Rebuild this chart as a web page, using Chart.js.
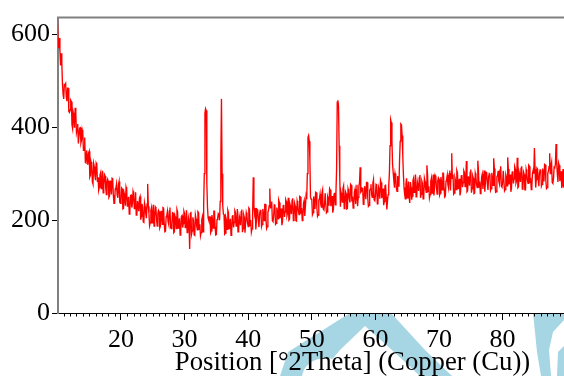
<!DOCTYPE html>
<html><head><meta charset="utf-8">
<script src="https://cdn.jsdelivr.net/npm/chart.js@4.4.1/dist/chart.umd.min.js"></script>
<style>html,body{margin:0;padding:0;overflow:hidden;background:#fff;width:564px;height:376px}</style>
</head><body>
<canvas id="c" width="660" height="376" style="width:660px;height:376px;display:block"></canvas>
<script>
// Scan: 2Theta start and step of the sampled angle grid
const angleStart = 10.0;
const angleStep = 0.1;
// Counts, one per grid angle (10.0 ... 90.0), 2 degrees per row
const counts = [
632,588,570,592,566,533,559,541,493,471,461,492,491,494,466,456,484,484,434,432,
437,458,455,405,397,431,423,399,442,429,389,397,407,365,365,398,399,366,372,394,
387,350,350,378,324,323,350,336,319,344,348,293,297,325,318,283,278,322,315,296,
286,323,320,282,292,265,271,297,302,268,286,306,259,276,298,295,270,255,282,288,
284,249,252,285,273,255,290,289,254,236,236,267,269,278,255,248,276,283,239,236,
245,269,267,224,225,258,251,231,271,265,230,239,250,213,220,253,254,227,236,262,
256,225,229,260,211,212,241,232,219,247,251,201,208,235,228,196,195,237,229,213,
204,235,278,230,214,188,194,221,227,194,213,233,187,205,228,225,200,187,214,221,
218,183,187,220,209,191,227,226,192,175,176,207,210,219,197,191,220,227,184,182,
192,216,215,173,175,208,201,182,223,218,183,192,204,168,175,208,210,184,193,219,
214,184,189,221,173,175,205,197,138,214,218,170,177,206,199,168,167,211,203,188,
179,218,216,180,191,166,173,201,207,175,232,300,430,440,436,280,228,205,200,207,
207,173,177,211,200,183,219,219,185,168,169,201,204,214,212,200,240,330,461,300,
232,213,212,170,172,205,199,180,221,216,182,191,203,167,175,208,211,184,195,220,
216,187,191,224,175,178,208,201,189,218,223,174,182,211,205,173,173,216,210,194,
186,226,224,188,200,174,181,215,292,230,215,226,180,200,223,221,198,185,214,221,
220,186,191,224,215,199,234,234,201,182,186,217,221,231,268,225,234,240,199,197,
208,233,232,191,193,227,220,203,243,238,204,214,225,189,197,231,233,207,218,244,
240,210,216,248,200,202,232,225,213,243,247,199,207,236,230,199,198,241,235,219,
212,251,250,214,226,199,207,236,242,209,230,252,245,300,378,382,370,330,250,245,
246,212,216,251,240,224,260,259,226,208,211,243,246,256,235,228,258,265,224,222,
233,258,258,216,218,250,245,231,268,265,230,239,252,216,224,256,259,233,260,310,
454,458,446,360,290,229,259,251,239,268,274,225,234,261,257,224,225,267,261,245,
238,277,275,240,251,226,233,261,267,235,254,276,230,249,273,280,314,260,262,269,
268,234,238,273,262,245,281,281,247,230,232,264,267,277,255,249,279,287,244,242,
252,277,276,235,237,270,264,246,286,281,247,257,268,232,240,274,275,250,223,240,
255,275,300,360,416,410,372,320,302,285,270,300,292,268,262,295,285,272,330,370,
407,405,382,340,300,270,255,246,278,290,248,262,283,250,237,282,271,244,252,285,
290,260,266,298,250,252,282,274,263,292,297,248,256,284,279,246,248,290,283,267,
260,318,298,262,273,248,255,283,290,258,277,298,253,271,296,292,270,256,284,291,
288,254,258,293,282,265,301,301,268,250,252,284,288,297,276,269,300,307,264,300,
344,290,298,256,258,291,285,266,307,302,268,278,289,253,262,295,297,271,281,306,
302,272,277,327,261,263,294,285,274,303,309,259,268,295,290,257,258,301,294,277,
270,328,308,271,283,257,264,293,299,267,286,307,261,281,303,302,278,265,293,300,
298,264,268,302,292,275,333,311,277,260,261,293,296,306,284,278,308,316,273,271,
281,306,306,263,266,298,293,274,335,310,277,285,298,261,270,303,305,279,289,315,
310,280,285,334,270,272,302,294,282,312,316,267,275,303,298,265,265,309,302,286,
279,318,316,280,291,266,273,301,307,300,355,310,270,288,312,310,286,273,301,308,
307,273,277,311,300,283,320,319,285,268,270,301,305,315,344,300,316,324,281,279,
289,314,313,320,364,325,300,282,323,318,284,293,305,269,277,310,270,286,296,300,
290
];
const xTickLabels = [20,30,40,50,60,70,80];
const yTickLabels = [0,200,400,600];
const xTitle = 'Position [°2Theta] (Copper (Cu))';

const points = counts.map((c,i)=>({x:+(angleStart+i*angleStep).toFixed(1), y:c}));
const FONT = {family:'"Liberation Serif", "DejaVu Serif", serif', size:26};

const decor = {
  id:'decor',
  beforeDraw(chart){
    const ctx = chart.ctx, a = chart.chartArea;
    ctx.save();
    ctx.beginPath(); ctx.rect(0, a.bottom+1, chart.width, chart.height); ctx.clip();
    ctx.fillStyle = '#a6d5e3';
    const poly = pts => { ctx.beginPath(); ctx.moveTo(pts[0][0],pts[0][1]); for(let i=1;i<pts.length;i++) ctx.lineTo(pts[i][0],pts[i][1]); ctx.closePath(); ctx.fill(); };
    poly([[350,313],[391,313],[425,350],[452,376],[420,376],[392,350],[365,326],[340,350],[318,376],[280,376],[288,352],[315,335]]);
    ctx.fillStyle = '#ffffff';
    ctx.beginPath(); ctx.ellipse(326,378,24,20,0,0,Math.PI*2); ctx.fill();
    ctx.fillStyle = '#a6d5e3';
    poly([[533,313],[564,313],[564,320],[553,332],[549,350],[551,376],[541,376],[537,352],[535,332]]);
    poly([[558,352],[564,346],[564,376],[557,376]]);
    ctx.restore();
  },
  afterDraw(chart){
    const ctx = chart.ctx, a = chart.chartArea, sx = chart.scales.x;
    ctx.save();
    ctx.strokeStyle = '#808080'; ctx.lineWidth = 2;
    ctx.beginPath(); ctx.moveTo(a.left-1, a.top); ctx.lineTo(a.right, a.top); ctx.stroke();
    ctx.strokeStyle = '#000'; ctx.lineWidth = 1;
    for (let v = 11; v < 103; v++) {
      if (v % 10 === 0) continue;
      const px = Math.round(sx.getPixelForValue(v)) + 0.5;
      ctx.beginPath(); ctx.moveTo(px, a.bottom); ctx.lineTo(px, a.bottom+3.5); ctx.stroke();
    }
    ctx.restore();
  }
};

new Chart(document.getElementById('c'), {
  type:'line',
  data:{datasets:[{data:points, borderColor:'#ff0000', borderWidth:1.35, pointRadius:0, tension:0, fill:false}]},
  options:{
    responsive:false, animation:false, events:[],
    layout:{padding:{top:14,left:0,right:13,bottom:0}},
    plugins:{legend:{display:false}, tooltip:{enabled:false}},
    scales:{
      x:{type:'linear', min:10.1, max:102.7, position:'bottom',
        afterBuildTicks(s){ s.ticks = [20,30,40,50,60,70,80,90,100].map(v=>({value:v})); },
        grid:{drawOnChartArea:false, drawTicks:true, tickLength:7, tickColor:'#000'},
        border:{display:true, color:'#000', width:1},
        ticks:{autoSkip:false, maxRotation:0, padding:5, color:'#000', font:FONT,
          callback:v=> xTickLabels.includes(v) ? String(v) : ''},
        title:{display:true, text:xTitle, color:'#000', font:{...FONT, size:26.7, lineHeight:1}, padding:0},
        afterFit(s){ s.height = 63; }
      },
      y:{min:0, max:636,
        afterBuildTicks(s){ s.ticks = yTickLabels.map(v=>({value:v})); },
        grid:{drawOnChartArea:false, drawTicks:true, tickLength:6, tickColor:'#000'},
        border:{display:true, color:'#808080', width:2},
        ticks:{padding:2, color:'#000', font:FONT, callback:v=> String(v)},
        afterFit(s){ s.width = 58; }
      }
    }
  },
  plugins:[decor]
});
</script>
</body></html>
